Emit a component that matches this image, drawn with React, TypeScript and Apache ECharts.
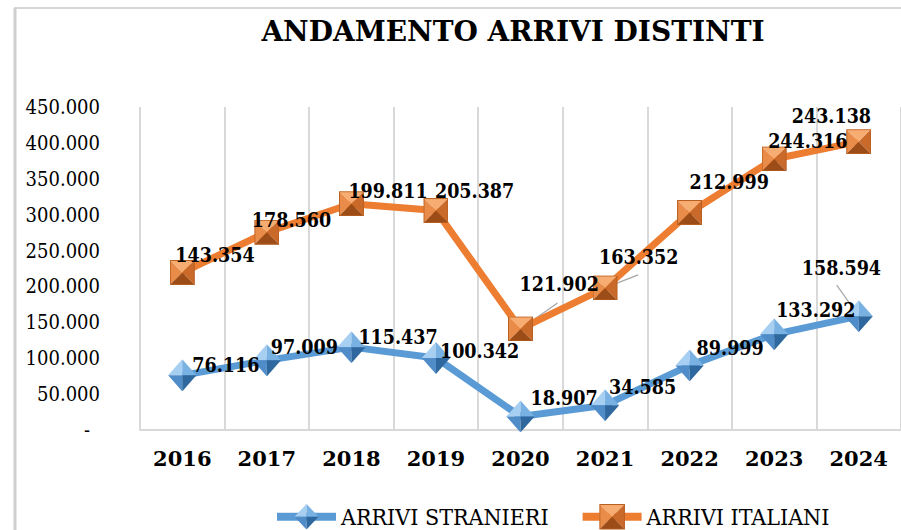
import React, { useEffect, useRef } from "react";
import * as echarts from "echarts";

const years = ["2016", "2017", "2018", "2019", "2020", "2021", "2022", "2023", "2024"];
const stranieri = [76116, 97009, 115437, 100342, 18907, 34585, 89999, 133292, 158594];
const italiani = [143354, 178560, 199811, 205387, 121902, 163352, 212999, 244316, 243138];
const yMin = 0;
const yMax = 450000;
const yStep = 50000;

// label placement (style only): [dx, dy] in pixels from the marker centre
const stranieriLabelShift = [[10, -10], [4, -13], [7, -10], [4, -6], [10, -18], [4, -18], [7, -17], [2, -24], [-57, -48]];
const italianiLabelShift = [[-7, -17], [-15, -12], [-3, -12], [-1, -19], [-1, -44], [-6, -30], [0, -30], [-6, -17], [-67, -25]];
// leader lines (style only): [series, index, dx, dy] pixel end point from the marker centre
const leaderLines = [[0, 8, -22, -31], [1, 4, 37, -26], [1, 5, 33, -13]];

const fmt = (v: number) => String(Math.round(v)).replace(/\B(?=(\d{3})+(?!\d))/g, ".");

const diamondSvg =
  '<svg xmlns="http://www.w3.org/2000/svg" width="32" height="34" viewBox="0 0 32 34">' +
  '<polygon points="16,0 0,17 16,17" fill="#a7cff2"/>' +
  '<polygon points="16,0 32,17 16,17" fill="#79b1e3"/>' +
  '<polygon points="0,17 16,34 16,17" fill="#4f8cc8"/>' +
  '<polygon points="32,17 16,34 16,17" fill="#2f689f"/>' +
  "</svg>";
const squareSvg =
  '<svg xmlns="http://www.w3.org/2000/svg" width="25" height="25" viewBox="0 0 25 25">' +
  '<polygon points="0,0 25,0 12.5,12.5" fill="#f7ad72"/>' +
  '<polygon points="0,0 0,25 12.5,12.5" fill="#e98c49"/>' +
  '<polygon points="25,0 25,25 12.5,12.5" fill="#c9692a"/>' +
  '<polygon points="0,25 25,25 12.5,12.5" fill="#9c4c17"/>' +
  '<rect x="0.5" y="0.5" width="24" height="24" fill="none" stroke="#b85f22" stroke-width="1"/>' +
  "</svg>";
const diamondSymbol = "image://data:image/svg+xml;utf8," + encodeURIComponent(diamondSvg);
const squareSymbol = "image://data:image/svg+xml;utf8," + encodeURIComponent(squareSvg);

export default function App() {
  const ref = useRef<HTMLDivElement>(null);
  useEffect(() => {
    if (!ref.current) return;
    const chart = echarts.init(ref.current, undefined, { renderer: "svg" });
    const serif = "DejaVu Serif";
    const serifC = "DejaVu Serif Condensed";
    const labelBase = {
      show: true,
      position: "inside",
      align: "left",
      verticalAlign: "middle",
      color: "#000",
      fontFamily: serifC,
      fontWeight: "bold",
      fontSize: 19.5,
      formatter: (p: any) => fmt(p.value),
    };
    const leaderData = leaderLines.map(([s, i, dx, dy]) => [
      i,
      s === 0 ? stranieri[i] : stranieri[i] + italiani[i],
      dx,
      dy,
    ]);
    chart.setOption({
      animation: false,
      backgroundColor: "#fff",
      textStyle: { fontFamily: serifC },
      graphic: [
        { type: "line", shape: { x1: 14, y1: 8, x2: 901, y2: 8 }, style: { stroke: "#d6d6d6", lineWidth: 2 } },
        { type: "line", shape: { x1: 15, y1: 8, x2: 15, y2: 530 }, style: { stroke: "#cfcfcf", lineWidth: 3 } },
        {
          type: "text",
          x: 513,
          y: 31,
          style: {
            text: "ANDAMENTO ARRIVI DISTINTI",
            fill: "#000",
            fontFamily: serif,
            fontWeight: "bold",
            fontSize: 28,
            textAlign: "center",
            textVerticalAlign: "middle",
          },
        },
      ],
      legend: {
        left: 268,
        top: 499,
        itemWidth: 59,
        itemHeight: 32,
        itemGap: 30,
        lineStyle: { width: 8 },
        textStyle: { fontFamily: serifC, fontSize: 23, color: "#000" },
        data: ["ARRIVI STRANIERI", "ARRIVI ITALIANI"],
      },
      grid: { left: 140, top: 107, width: 776, height: 323, containLabel: false },
      xAxis: {
        type: "category",
        data: years,
        boundaryGap: true,
        axisLine: { show: true, lineStyle: { color: "#d9d9d9", width: 2 } },
        axisTick: { show: false },
        splitLine: { show: true, lineStyle: { color: "#d9d9d9", width: 2 } },
        axisLabel: { color: "#000", fontFamily: serif, fontWeight: "bold", fontSize: 21, margin: 18 },
      },
      yAxis: {
        type: "value",
        min: yMin,
        max: yMax,
        interval: yStep,
        axisLine: { show: false },
        axisTick: { show: false },
        splitLine: { show: false },
        axisLabel: {
          color: "#000",
          fontFamily: serifC,
          fontSize: 20,
          margin: 40,
          formatter: (v: number) => (v === 0 ? "{d|-}" : fmt(v)),
          rich: { d: { fontFamily: serifC, fontSize: 20, color: "#000", padding: [0, 10, 0, 0] } },
        },
      },
      series: [
        {
          name: "leader",
          type: "custom",
          coordinateSystem: "cartesian2d",
          data: leaderData,
          silent: true,
          z: 1,
          renderItem: (params: any, api: any) => {
            const p = api.coord([api.value(0), api.value(1)]);
            return {
              type: "line",
              shape: { x1: p[0], y1: p[1], x2: p[0] + api.value(2), y2: p[1] + api.value(3) },
              style: { stroke: "#a6a6a6", lineWidth: 1.2 },
            };
          },
        },
        {
          name: "ARRIVI STRANIERI",
          type: "line",
          stack: "total",
          data: stranieri,
          symbol: diamondSymbol,
          symbolSize: [30, 32],
          lineStyle: { color: "#5B9BD5", width: 7 },
          itemStyle: { color: "#5B9BD5" },
          label: labelBase,
          labelLayout: (p: any) => ({ dx: stranieriLabelShift[p.dataIndex][0], dy: stranieriLabelShift[p.dataIndex][1] }),
          z: 3,
        },
        {
          name: "ARRIVI ITALIANI",
          type: "line",
          stack: "total",
          data: italiani,
          symbol: squareSymbol,
          symbolSize: 25,
          lineStyle: { color: "#ED7D31", width: 7 },
          itemStyle: { color: "#ED7D31" },
          label: labelBase,
          labelLayout: (p: any) => ({ dx: italianiLabelShift[p.dataIndex][0], dy: italianiLabelShift[p.dataIndex][1] }),
          z: 2,
        },
      ],
    });
    return () => chart.dispose();
  }, []);
  return <div ref={ref} style={{ position: "absolute", left: 0, top: 0, width: 901, height: 530 }} />;
}
